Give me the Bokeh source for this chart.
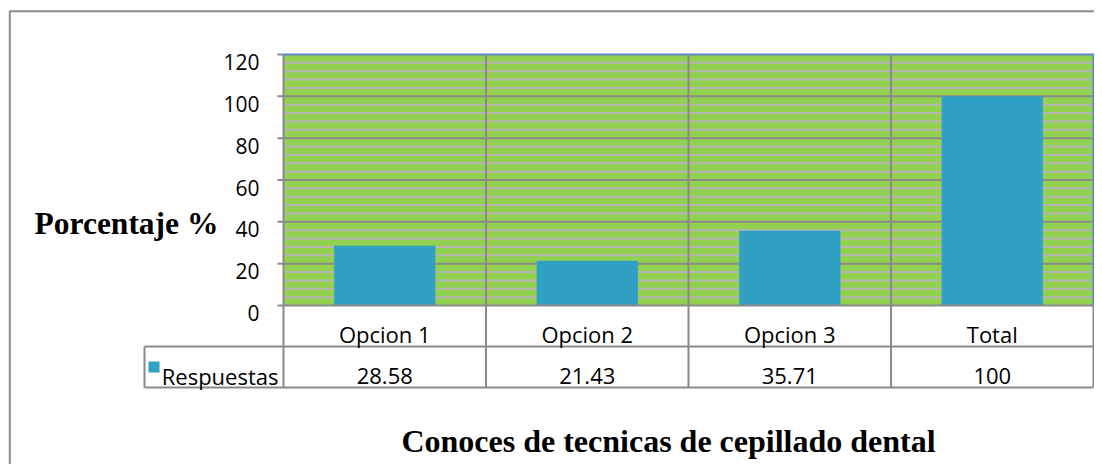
from bokeh.plotting import figure
from bokeh.models import Range1d
from bokeh.core.properties import value
from bokeh.embed import file_html
from bokeh.resources import INLINE

# ---------------- data ----------------
categories = ["Opcion 1", "Opcion 2", "Opcion 3", "Total"]
respuestas = [28.58, 21.43, 35.71, 100]
value_labels = ["28.58", "21.43", "35.71", "100"]
series_name = "Respuestas"
y_ticks = [0, 20, 40, 60, 80, 100, 120]
y_tick_labels = ["0", "20", "40", "60", "80", "100", "120"]
y_minor_step = 4
y_title = "Porcentaje %"
x_title = "Conoces de tecnicas de cepillado dental"

# ---------------- layout (picture pixels) ----------------
W, H = 1094, 464
OX, OY = 0, 0
PA_L, PA_R, PA_T, PA_B = 283, 1093, 54, 305
Y_MAX = 120
N = len(categories)
XS = (PA_R - PA_L) / N
YS = (PA_B - PA_T) / Y_MAX
ROW1_B, ROW2_B = 346, 387
CELL_L = 144


def dx(px):
    return (px - PA_L) / XS


def dy(py):
    return (PA_B - py) / YS


SANS = value("Open Sans")
SERIF = value("Liberation Serif")
BAR = "#30a0c4"
GRID = "#8a8a8a"
STRIPE = "#b5b5b5"
GREEN = "#92d050"
BLUE = "#5f88c6"

p = figure(width=W, height=H, output_backend="svg", toolbar_location=None,
           x_range=Range1d(dx(OX), dx(OX + W)), y_range=Range1d(dy(OY + H), dy(OY)),
           x_axis_type=None, y_axis_type=None, min_border=0,
           outline_line_color=None, background_fill_color="white",
           border_fill_color="white")
p.grid.visible = False

# outer chart border (left and top visible)
p.line([dx(9.3), dx(9.3), dx(1110)], [dy(480), dy(10.8), dy(10.8)],
       line_color="#8c8c8c", line_width=2)

# plot area background
p.quad(left=[0], right=[N], bottom=[0], top=[Y_MAX], fill_color=GREEN, line_color=None)

# minor stripes
minor = [v for v in range(y_minor_step, Y_MAX, y_minor_step) if v % 20 != 0]
p.segment(x0=[0] * len(minor), x1=[N] * len(minor), y0=minor, y1=minor,
          line_color=STRIPE, line_width=2)
# major gridlines
major = [t for t in y_ticks if 0 < t < Y_MAX]
p.segment(x0=[0] * len(major), x1=[N] * len(major), y0=major, y1=major,
          line_color=GRID, line_width=2)
# category separators (through plot area and table)
seps = list(range(1, N))
p.segment(x0=seps, x1=seps, y0=[dy(ROW2_B)] * len(seps), y1=[Y_MAX] * len(seps),
          line_color=GRID, line_width=2)

# bars
centers = [i + 0.5 for i in range(N)]
p.vbar(x=centers, top=respuestas, bottom=0, width=0.5, fill_color=BAR, line_color=None)

# plot area border top/right (blue)
p.line([0, N, N], [Y_MAX, Y_MAX, 0], line_color=BLUE, line_width=2)

# axes lines
p.line([0, 0], [dy(ROW2_B), Y_MAX], line_color=GRID, line_width=2)
p.line([0, N], [0, 0], line_color=GRID, line_width=2)
# y ticks
p.segment(x0=[dx(277)] * len(y_ticks), x1=[0] * len(y_ticks), y0=y_ticks, y1=y_ticks,
          line_color=GRID, line_width=2)

# table lines
p.segment(x0=[dx(CELL_L), dx(CELL_L)], x1=[N, N], y0=[dy(ROW1_B), dy(ROW2_B)],
          y1=[dy(ROW1_B), dy(ROW2_B)], line_color=GRID, line_width=2)
p.segment(x0=[N, dx(CELL_L)], x1=[N, dx(CELL_L)], y0=[dy(ROW2_B), dy(ROW2_B)],
          y1=[0, dy(ROW1_B)], line_color=GRID, line_width=2)

# y tick labels
p.text(x=[dx(259)] * len(y_ticks), y=y_ticks, text=y_tick_labels, y_offset=7.5,
       text_font=SANS, text_font_size="21px", text_align="right",
       text_baseline="alphabetic", text_color="black")

# category labels (table row 1)
p.text(x=centers, y=[dy(333)] * N, text=categories, text_font=SANS,
       text_font_size="22px", text_align="center", text_baseline="alphabetic",
       text_color="black")
# value labels (table row 2)
p.text(x=centers, y=[dy(375)] * N, text=value_labels, text_font=SANS,
       text_font_size="22px", text_align="center", text_baseline="alphabetic",
       text_color="black")

# legend key and series name
p.quad(left=[dx(CELL_L + 4)], right=[dx(CELL_L + 15)], bottom=[dy(372)], top=[dy(361)],
       fill_color=BAR, line_color=None)
p.text(x=[dx(278)], y=[dy(375)], text=[series_name], text_font=SANS,
       text_font_size="22px", text_align="right", text_baseline="alphabetic",
       text_color="black")

# axis titles
p.text(x=[dx(34)], y=[dy(223)], text=[y_title], text_font=SERIF, text_font_size="31.5px",
       text_font_style="bold", text_align="left", text_baseline="alphabetic",
       text_color="black")
p.text(x=[dx(668)], y=[dy(440)], text=[x_title], text_font=SERIF, text_font_size="32px",
       text_font_style="bold", text_align="center", text_baseline="alphabetic",
       text_color="black")

open("out.html", "w").write(file_html(p, INLINE))
